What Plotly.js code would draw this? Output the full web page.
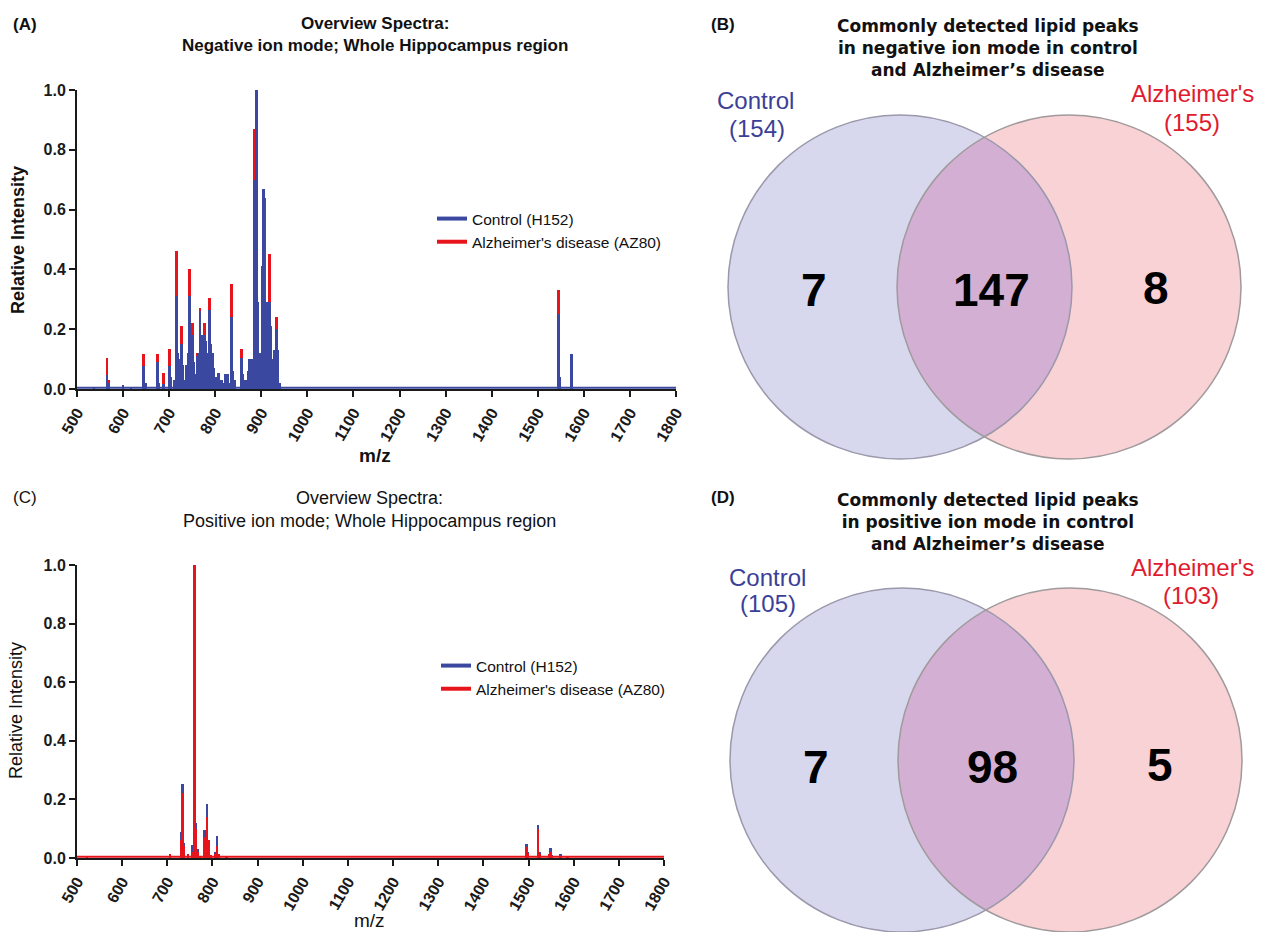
<!DOCTYPE html>
<html><head><meta charset="utf-8">
<script src="https://cdn.plot.ly/plotly-3.0.1.min.js"></script>
<style>html,body{margin:0;padding:0;background:#fff;}</style>
</head><body><div id="chart" style="width:1263px;height:932px;"></div>
<script>
// ---------- DATA ----------
const mzRange = [500, 1800];
const intensityRange = [0, 1];
const noiseNeg = 0.004;
const noisePos = 0.004;

// Panel A: negative ion mode
const negMz = [537,565,568,600,617,645,648,675,678,688,700,703,712,716,719,722,727,730,734,738,742,744,747,750,753,757,761,764,767,770,773,776,779,782,785,788,791,794,797,800,804,807,810,814,819,823,826,830,835,838,842,857,860,863,869,872,875,878,881,885,889,892,895,899,902,905,908,911,914,917,920,923,926,929,933,936,939,1545,1548,1573];
const negControl = [0.005,0.048,0.02,0.015,0.003,0.078,0.02,0.09,0.015,0.017,0.078,0.03,0.03,0.31,0.12,0.08,0.15,0.08,0.03,0.08,0.12,0.31,0.18,0.18,0.09,0.05,0.11,0.12,0.26,0.10,0.18,0.18,0.16,0.12,0.08,0.265,0.15,0.12,0.07,0.04,0.03,0.055,0.03,0.03,0.02,0.05,0.05,0.02,0.24,0.06,0.03,0.105,0.05,0.03,0.03,0.06,0.10,0.10,0.05,0.70,1.00,0.29,0.08,0.12,0.41,0.67,0.30,0.13,0.29,0.29,0.20,0.10,0.05,0.13,0.20,0.13,0.02,0.25,0.04,0.117];
const negAD = [0.007,0.103,0.03,0.012,0.005,0.118,0.02,0.118,0.02,0.055,0.135,0.04,0.03,0.46,0.12,0.10,0.21,0.08,0.03,0.08,0.12,0.40,0.18,0.22,0.08,0.05,0.12,0.08,0.27,0.10,0.16,0.22,0.12,0.08,0.06,0.305,0.10,0.10,0.06,0.04,0.03,0.05,0.03,0.02,0.02,0.05,0.04,0.02,0.35,0.06,0.02,0.135,0.04,0.02,0.02,0.05,0.08,0.10,0.04,0.87,0.51,0.29,0.08,0.10,0.41,0.41,0.64,0.12,0.22,0.45,0.21,0.06,0.04,0.13,0.24,0.12,0.02,0.33,0.04,0.015];

// Panel C: positive ion mode
const posMz = [522,706,731,733,736,746,756,760,763,767,774,782,785,788,791,797,807,810,813,831,1495,1498,1521,1524,1546,1549,1552,1571,1586];
const posControl = [0.008,0.01,0.09,0.253,0.05,0.012,0.045,0.42,0.12,0.03,0.005,0.094,0.07,0.185,0.06,0.01,0.02,0.075,0.015,0.003,0.048,0.02,0.111,0.02,0.01,0.033,0.01,0.012,0.002];
const posAD = [0.006,0.012,0.06,0.222,0.04,0.012,0.02,1.0,0.10,0.02,0.005,0.07,0.06,0.14,0.06,0.01,0.015,0.04,0.012,0.003,0.037,0.018,0.098,0.015,0.015,0.022,0.008,0.005,0.002];

const seriesNames = ["Control (H152)", "Alzheimer's disease (AZ80)"];

// Venn diagrams: [control only, shared, AD only], totals [control, AD]
const vennNegCounts = [7, 147, 8];
const vennNegTotals = [154, 155];
const vennPosCounts = [7, 98, 5];
const vennPosTotals = [105, 103];
const vennGroupNames = ["Control", "Alzheimer's"];

// ---------- STYLE ----------
const W = 1263, H = 932;
const BLUE = '#3a48a0', RED = '#e8141c';
const CTRL_TXT = '#3b3f98', AD_TXT = '#e01b2e';
const FONT = 'Liberation Sans, Arial, sans-serif';
const WIDE = 'DejaVu Sans, Verdana, sans-serif';
const barW = 6;

function bars(x, y, color, xa, ya) {
  return {type:'bar', x:x, y:y, width:x.map(()=>barW), xaxis:xa, yaxis:ya,
    marker:{color:color, opacity:1, line:{width:0}}, showlegend:false, hoverinfo:'skip'};
}
function baseline(noise, color, xa, ya) {
  return {type:'scatter', mode:'lines', x:mzRange, y:[noise, noise], xaxis:xa, yaxis:ya,
    line:{color:color, width:2}, showlegend:false, hoverinfo:'skip'};
}
function legItem(name, color, xa, ya, leg) {
  return {type:'scatter', mode:'lines', x:[null], y:[null], name:name, xaxis:xa, yaxis:ya,
    legend:leg, line:{color:color, width:4}, showlegend:true};
}

// Venn geometry (pixel space on overlay axes)
const vennGeom = {
  B: {c1:900, c2:1069, cy:287, r:172},
  D: {c1:902, c2:1070, cy:760, r:172}
};
function lens(g) {
  const a = (g.c2 - g.c1) / 2, h = Math.sqrt(g.r*g.r - a*a), th = Math.atan2(h, a);
  const xs = [], ys = [], n = 80;
  for (let i = 0; i <= n; i++) { const t = -th + 2*th*i/n; xs.push(g.c1 + g.r*Math.cos(t)); ys.push(g.cy + g.r*Math.sin(t)); }
  for (let i = 0; i <= n; i++) { const t = Math.PI - th + 2*th*i/n; xs.push(g.c2 + g.r*Math.cos(t)); ys.push(g.cy + g.r*Math.sin(t)); }
  return {type:'scatter', mode:'lines', x:xs, y:ys, xaxis:'x3', yaxis:'y3', fill:'toself',
    fillcolor:'#d2afd3', line:{width:0}, showlegend:false, hoverinfo:'skip'};
}
function circleShapes(g) {
  const out = [];
  [[g.c1,'#d7d8ee'],[g.c2,'#f9d2d5']].forEach(([cx,fc]) => {
    out.push({type:'circle', xref:'x3', yref:'y3', x0:cx-g.r, x1:cx+g.r, y0:g.cy-g.r, y1:g.cy+g.r,
      fillcolor:fc, line:{width:0}, layer:'below'});
  });
  [[g.c1,'#9a98aa'],[g.c2,'#a09a9c']].forEach(([cx,lc]) => {
    out.push({type:'circle', xref:'x3', yref:'y3', x0:cx-g.r, x1:cx+g.r, y0:g.cy-g.r, y1:g.cy+g.r,
      fillcolor:'rgba(0,0,0,0)', line:{width:1.5, color:lc}, layer:'above'});
  });
  return out;
}

const traces = [
  // Panel A: AD below, control on top
  bars(negMz, negAD, RED, 'x', 'y'),
  bars(negMz, negControl, BLUE, 'x', 'y'),
  baseline(noiseNeg, BLUE, 'x', 'y'),
  legItem(seriesNames[0], BLUE, 'x', 'y', 'legend'),
  legItem(seriesNames[1], RED, 'x', 'y', 'legend'),
  // Panel C: control below, AD on top
  bars(posMz, posControl, BLUE, 'x2', 'y2'),
  bars(posMz, posAD, RED, 'x2', 'y2'),
  baseline(noisePos, RED, 'x2', 'y2'),
  legItem(seriesNames[0], BLUE, 'x2', 'y2', 'legend2'),
  legItem(seriesNames[1], RED, 'x2', 'y2', 'legend2'),
  // Venn lenses
  lens(vennGeom.B), lens(vennGeom.D)
];

function xAx(dom, anchor) {
  return {domain:dom, range:mzRange, anchor:anchor, tick0:500, dtick:100, tickangle:-60,
    showline:true, linecolor:'#1a1a1a', linewidth:2, ticks:'outside', ticklen:6, tickwidth:2, tickcolor:'#1a1a1a',
    showgrid:false, zeroline:false, fixedrange:true, tickfont:{size:16, weight:'bold', color:'#1a1a1a'}};
}
function yAx(dom, anchor) {
  return {domain:dom, range:intensityRange, anchor:anchor, dtick:0.2, tickformat:'.1f',
    showline:true, linecolor:'#1a1a1a', linewidth:2, ticks:'outside', ticklen:6, tickwidth:2, tickcolor:'#1a1a1a',
    showgrid:false, zeroline:false, fixedrange:true, tickfont:{size:16, weight:'bold', color:'#1a1a1a'}};
}

function ann(text, x, y, font, extra) {
  return Object.assign({text:text, x:x, y:y, xref:'x3', yref:'y3', showarrow:false,
    xanchor:'center', yanchor:'middle', font:Object.assign({family:FONT, color:'#111'}, font)}, extra||{});
}

const annotations = [
  ann('(A)', 25, 24, {size:17, weight:'bold'}),
  ann('Overview Spectra:<br>Negative ion mode; Whole Hippocampus region', 375, 34, {size:17, weight:'bold'}),
  ann('Relative Intensity', 18, 240, {size:18, weight:'bold'}, {textangle:-90}),
  ann('m/z', 375, 455, {size:19, weight:'bold'}),
  ann('(C)', 25, 497, {size:17}),
  ann('Overview Spectra:<br>Positive ion mode; Whole Hippocampus region', 369, 509, {size:18}),
  ann('Relative Intensity', 16, 711, {size:18}, {textangle:-90}),
  ann('m/z', 369, 920, {size:19}),
  // Venn B
  ann('(B)', 723, 24, {size:17, weight:'bold'}),
  ann('Commonly detected lipid peaks<br>in negative ion mode in control<br>and Alzheimer\u2019s disease', 988, 48, {family:WIDE, size:17, weight:'bold'}),
  ann(vennGroupNames[0], 755, 100, {size:24, color:CTRL_TXT}),
  ann('(' + vennNegTotals[0] + ')', 757, 128, {size:24, color:CTRL_TXT}),
  ann(vennGroupNames[1], 1192, 93, {size:24, color:AD_TXT}),
  ann('(' + vennNegTotals[1] + ')', 1192, 122, {size:24, color:AD_TXT}),
  ann(String(vennNegCounts[0]), 814, 290, {size:46, weight:'bold', color:'#000'}),
  ann(String(vennNegCounts[1]), 991, 290, {size:46, weight:'bold', color:'#000'}),
  ann(String(vennNegCounts[2]), 1156, 288, {size:46, weight:'bold', color:'#000'}),
  // Venn D
  ann('(D)', 723, 497, {size:17, weight:'bold'}),
  ann('Commonly detected lipid peaks<br>in positive ion mode in control<br>and Alzheimer\u2019s disease', 988, 522, {family:WIDE, size:17, weight:'bold'}),
  ann(vennGroupNames[0], 767, 577, {size:24, color:CTRL_TXT}),
  ann('(' + vennPosTotals[0] + ')', 768, 603, {size:24, color:CTRL_TXT}),
  ann(vennGroupNames[1], 1192, 567, {size:24, color:AD_TXT}),
  ann('(' + vennPosTotals[1] + ')', 1191, 595, {size:24, color:AD_TXT}),
  ann(String(vennPosCounts[0]), 816, 767, {size:46, weight:'bold', color:'#000'}),
  ann(String(vennPosCounts[1]), 992, 767, {size:46, weight:'bold', color:'#000'}),
  ann(String(vennPosCounts[2]), 1160, 765, {size:46, weight:'bold', color:'#000'})
];

const layout = {
  width:W, height:H, margin:{l:0, r:0, t:0, b:0, pad:0},
  paper_bgcolor:'#ffffff', plot_bgcolor:'rgba(0,0,0,0)',
  font:{family:FONT, color:'#111'},
  barmode:'overlay', bargap:0,
  xaxis: xAx([77/W, 676/W], 'y'),
  yaxis: yAx([1-389/H, 1-90/H], 'x'),
  xaxis2: xAx([77/W, 664/W], 'y2'),
  yaxis2: yAx([1-858/H, 1-565/H], 'x2'),
  xaxis3: {domain:[0,1], range:[0,W], anchor:'y3', visible:false, fixedrange:true},
  yaxis3: {domain:[0,1], range:[H,0], anchor:'x3', visible:false, fixedrange:true},
  legend: {x:432/W, y:1-202/H, xanchor:'left', yanchor:'top', bgcolor:'rgba(0,0,0,0)',
    font:{size:15.5, family:FONT, color:'#111'}, itemwidth:30, tracegroupgap:0},
  legend2: {x:436/W, y:1-649/H, xanchor:'left', yanchor:'top', bgcolor:'rgba(0,0,0,0)',
    font:{size:15.5, family:FONT, color:'#111'}, itemwidth:30, tracegroupgap:0},
  shapes: circleShapes(vennGeom.B).concat(circleShapes(vennGeom.D)),
  annotations: annotations
};

Plotly.newPlot('chart', traces, layout, {staticPlot:true, displayModeBar:false});
</script></body></html>
